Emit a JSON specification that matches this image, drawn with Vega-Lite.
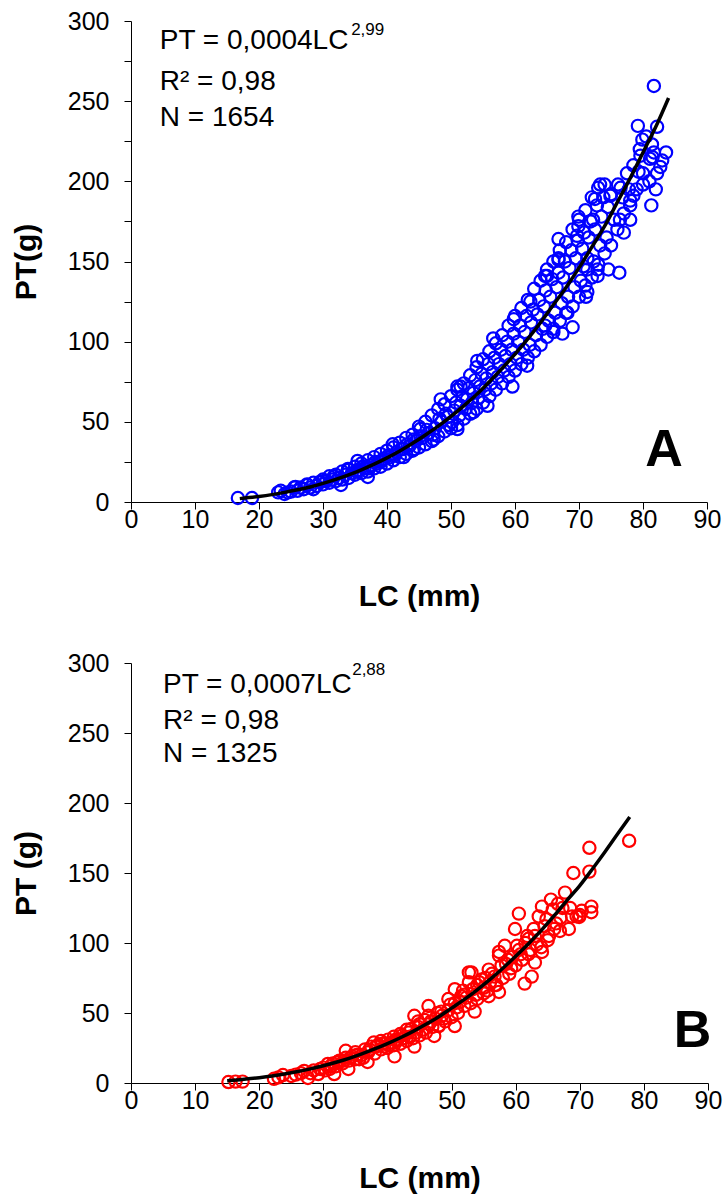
{
  "$schema": "https://vega.github.io/schema/vega-lite/v6.json",
  "background": "white",
  "padding": {"left": 11, "top": 9, "right": 5, "bottom": 5},
  "bounds": "flush",
  "spacing": 161,
  "config": {
    "view": {"stroke": null},
    "font": "Liberation Sans",
    "axis": {
      "grid": false,
      "domainColor": "black",
      "domainWidth": 1,
      "tickColor": "black",
      "tickWidth": 1,
      "tickSize": 7,
      "labelColor": "black",
      "labelFont": "Liberation Sans",
      "labelFontSize": 25,
      "titleFont": "Liberation Sans",
      "titleFontSize": 30,
      "titleFontWeight": "bold",
      "titleColor": "black"
    }
  },
  "datasets": {
    "a_pts": [
      {"LC":16.7,"PT":2.5},{"LC":18.9,"PT":2.5},
      {"LC":23.4,"PT":7},{"LC":24.5,"PT":6},{"LC":25.7,"PT":9.4},{"LC":27.6,"PT":10.6},{"LC":28.5,"PT":8},{"LC":30,"PT":13},{"LC":32.8,"PT":10.6},{"LC":31.7,"PT":16},{"LC":33.9,"PT":20.6},{"LC":35.4,"PT":25.6},{"LC":37,"PT":15.6},{"LC":39,"PT":25},{"LC":40.9,"PT":36},{"LC":42.6,"PT":28},{"LC":44.2,"PT":33},{"LC":45.2,"PT":45.5},{"LC":47.3,"PT":39},{"LC":48.4,"PT":64},{"LC":51,"PT":45.5},{"LC":53.5,"PT":56},{"LC":51.5,"PT":72},
      {"LC":23,"PT":6},{"LC":24,"PT":5},{"LC":25,"PT":6.5},{"LC":25.5,"PT":9},{"LC":26,"PT":7},{"LC":26.5,"PT":9},{"LC":27,"PT":8},{"LC":27.5,"PT":11},{"LC":28,"PT":9},{"LC":28.5,"PT":12},{"LC":29,"PT":10},{"LC":29.5,"PT":12.5},{"LC":30,"PT":11},{"LC":30,"PT":14},
      {"LC":30.5,"PT":13},{"LC":31,"PT":12},{"LC":31,"PT":16},{"LC":31.5,"PT":14},{"LC":32,"PT":13},{"LC":32,"PT":17},{"LC":32.5,"PT":15},{"LC":33,"PT":14},{"LC":33,"PT":19},{"LC":33.5,"PT":17},{"LC":34,"PT":15},{"LC":34,"PT":20},{"LC":34.5,"PT":18},{"LC":35,"PT":17},{"LC":35,"PT":22},{"LC":35.5,"PT":20},{"LC":36,"PT":18},{"LC":36,"PT":24},{"LC":36.5,"PT":21},{"LC":37,"PT":19},{"LC":37,"PT":26},{"LC":37.5,"PT":23},{"LC":38,"PT":21},{"LC":38,"PT":28},{"LC":38.5,"PT":24},{"LC":39,"PT":22},{"LC":39,"PT":30},{"LC":39.5,"PT":27},{"LC":40,"PT":24},{"LC":40,"PT":32},{"LC":40.5,"PT":28},
      {"LC":41,"PT":26},{"LC":41,"PT":34},{"LC":41.5,"PT":31},{"LC":42,"PT":28},{"LC":42,"PT":37},{"LC":42.5,"PT":33},{"LC":43,"PT":30},{"LC":43,"PT":40},{"LC":43.5,"PT":35},{"LC":44,"PT":32},{"LC":44,"PT":42},{"LC":44.5,"PT":38},{"LC":45,"PT":34},{"LC":45,"PT":47},{"LC":45.5,"PT":40},{"LC":46,"PT":36},{"LC":46,"PT":50},{"LC":46.5,"PT":43},{"LC":47,"PT":38},{"LC":47,"PT":54},{"LC":47.5,"PT":46},{"LC":48,"PT":41},{"LC":48,"PT":58},{"LC":48.5,"PT":50},{"LC":49,"PT":44},{"LC":49,"PT":61},{"LC":49.5,"PT":53},{"LC":50,"PT":46},{"LC":50,"PT":66},{"LC":50.5,"PT":57},
      {"LC":51,"PT":48},{"LC":51,"PT":70},{"LC":51.5,"PT":60},{"LC":52,"PT":52},{"LC":52,"PT":74},{"LC":52.5,"PT":64},{"LC":53,"PT":55},{"LC":53,"PT":79},{"LC":53.5,"PT":68},{"LC":54,"PT":58},{"LC":54,"PT":84},{"LC":54.5,"PT":72},{"LC":55,"PT":62},{"LC":55,"PT":89},{"LC":55.5,"PT":77},{"LC":56,"PT":66},{"LC":56,"PT":94},{"LC":56.5,"PT":81},{"LC":57,"PT":70},{"LC":57,"PT":99},{"LC":57.5,"PT":86},{"LC":58,"PT":74},{"LC":58,"PT":104},{"LC":58.5,"PT":91},{"LC":59,"PT":78},{"LC":59,"PT":110},{"LC":59.5,"PT":95},{"LC":60,"PT":82},{"LC":60,"PT":116},{"LC":60.5,"PT":100},
      {"LC":61,"PT":86},{"LC":61,"PT":121},{"LC":61.5,"PT":106},{"LC":62,"PT":90},{"LC":62,"PT":126},{"LC":62.5,"PT":112},{"LC":63,"PT":94},{"LC":63,"PT":133},{"LC":63.5,"PT":117},{"LC":64,"PT":98},{"LC":64,"PT":138},{"LC":64.5,"PT":122},{"LC":65,"PT":103},{"LC":65,"PT":145},{"LC":65.5,"PT":128},{"LC":66,"PT":108},{"LC":66,"PT":150},{"LC":66.5,"PT":134},{"LC":67,"PT":113},{"LC":67,"PT":157},{"LC":67.5,"PT":140},{"LC":68,"PT":118},{"LC":68,"PT":162},{"LC":68.5,"PT":146},{"LC":69,"PT":122},{"LC":69,"PT":170},{"LC":69.5,"PT":152},{"LC":70,"PT":128},{"LC":70,"PT":176},{"LC":70.5,"PT":158},
      {"LC":71,"PT":135},{"LC":71,"PT":182},{"LC":71.5,"PT":165},{"LC":72,"PT":140},{"LC":72,"PT":190},{"LC":72.5,"PT":170},{"LC":73,"PT":148},{"LC":73,"PT":196},{"LC":73.5,"PT":178},{"LC":74,"PT":155},{"LC":74,"PT":198},{"LC":74.5,"PT":184},{"LC":75,"PT":160},{"LC":75,"PT":192},{"LC":76,"PT":170},{"LC":76.5,"PT":196},{"LC":77,"PT":180},{"LC":77.5,"PT":205},{"LC":78,"PT":188},{"LC":78.5,"PT":210},{"LC":79,"PT":195},{"LC":79.5,"PT":220},{"LC":80,"PT":205},{"LC":80.5,"PT":228},{"LC":81,"PT":200},{"LC":81.5,"PT":215},{"LC":82,"PT":195},{"LC":83,"PT":213},
      {"LC":81.7,"PT":259.5},{"LC":79.2,"PT":234.6},{"LC":82.2,"PT":234},{"LC":79.9,"PT":226},{"LC":81.4,"PT":223},{"LC":81.7,"PT":218},{"LC":83.6,"PT":218},{"LC":79.6,"PT":216},{"LC":81.1,"PT":214},{"LC":82.7,"PT":209},{"LC":82.2,"PT":205},{"LC":81.3,"PT":185},{"LC":73.3,"PT":198},{"LC":76.1,"PT":198},{"LC":80,"PT":198},{"LC":72.5,"PT":189},{"LC":74.9,"PT":191},{"LC":78,"PT":185},{"LC":78.5,"PT":191},{"LC":76.4,"PT":176},{"LC":78,"PT":176},{"LC":77,"PT":168},{"LC":69.9,"PT":178},{"LC":69.9,"PT":172},{"LC":66.8,"PT":164},{"LC":66.8,"PT":152},{"LC":71.3,"PT":131},{"LC":76.3,"PT":143},{"LC":74.6,"PT":145},{"LC":72.9,"PT":145},{"LC":70.7,"PT":147},{"LC":65,"PT":141},
      {"LC":66.8,"PT":151},{"LC":64.7,"PT":141},{"LC":71.1,"PT":128},{"LC":69,"PT":109},{"LC":67.4,"PT":105},{"LC":61.9,"PT":85},{"LC":59.6,"PT":72},{"LC":55.7,"PT":60},{"LC":51,"PT":72},{"LC":54.1,"PT":88},{"LC":56.6,"PT":102},{"LC":59.8,"PT":114},{"LC":62.4,"PT":125},{"LC":64.7,"PT":110},{"LC":66,"PT":106},{"LC":68.2,"PT":118},{"LC":71.3,"PT":152},{"LC":72.9,"PT":141},{"LC":72.2,"PT":176},{"LC":69.7,"PT":166},
      {"LC":35.2,"PT":19},{"LC":36.2,"PT":22},{"LC":37.2,"PT":21},{"LC":38.2,"PT":25},{"LC":39.2,"PT":26},{"LC":40.2,"PT":29},{"LC":41.2,"PT":29},{"LC":42.2,"PT":33},{"LC":43.2,"PT":36},{"LC":44.2,"PT":39},{"LC":45.2,"PT":41},{"LC":46.2,"PT":45},{"LC":47.2,"PT":42},{"LC":48.2,"PT":52},{"LC":49.2,"PT":55},{"LC":49.7,"PT":48},
      {"LC":50.2,"PT":50},{"LC":50.8,"PT":62},{"LC":51.3,"PT":54},{"LC":51.8,"PT":66},{"LC":52.3,"PT":58},{"LC":52.8,"PT":71},{"LC":53.3,"PT":62},{"LC":53.8,"PT":76},{"LC":54.3,"PT":65},{"LC":54.8,"PT":80},{"LC":55.3,"PT":70},{"LC":55.8,"PT":86},{"LC":56.3,"PT":74},{"LC":56.8,"PT":90},{"LC":57.3,"PT":78},{"LC":57.8,"PT":95},{"LC":58.3,"PT":82},{"LC":58.8,"PT":100},{"LC":59.3,"PT":86},{"LC":59.8,"PT":105},{"LC":60.3,"PT":90},{"LC":60.8,"PT":110},{"LC":61.3,"PT":95},{"LC":61.8,"PT":116},{"LC":62.3,"PT":98},{"LC":62.8,"PT":120},{"LC":63.3,"PT":104},{"LC":63.8,"PT":126},{"LC":64.3,"PT":108},{"LC":64.8,"PT":132},{"LC":65.3,"PT":113},{"LC":65.8,"PT":139},{"LC":66.3,"PT":118},{"LC":66.8,"PT":143},{"LC":67.3,"PT":124},{"LC":67.8,"PT":150},{"LC":68.3,"PT":128},{"LC":68.8,"PT":157},{"LC":69.3,"PT":134},{"LC":69.8,"PT":163},{"LC":70.3,"PT":138},{"LC":70.8,"PT":168},{"LC":71.3,"PT":145},{"LC":71.8,"PT":175},{"LC":72.3,"PT":150},{"LC":72.8,"PT":185},{"LC":73.3,"PT":160},{"LC":73.8,"PT":190},{"LC":74.3,"PT":165},{"LC":75.5,"PT":176},{"LC":76.8,"PT":190},{"LC":77.8,"PT":195},{"LC":79.3,"PT":206}
    ],
    "a_fit": [
      {"LC":17,"PT":2.1},{"LC":20,"PT":3.45},{"LC":22,"PT":4.6},{"LC":24,"PT":6.0},{"LC":26,"PT":7.6},{"LC":28,"PT":9.4},{"LC":30,"PT":11.6},{"LC":32,"PT":14.1},{"LC":34,"PT":16.9},{"LC":36,"PT":20.1},{"LC":38,"PT":23.6},{"LC":40,"PT":27.5},{"LC":42,"PT":31.8},{"LC":44,"PT":36.6},{"LC":46,"PT":41.8},{"LC":48,"PT":47.3},{"LC":50,"PT":53.4},{"LC":52,"PT":60},{"LC":54,"PT":67},{"LC":56,"PT":75},{"LC":58,"PT":83.4},{"LC":60,"PT":92.2},{"LC":62,"PT":101.7},{"LC":64,"PT":112},{"LC":66,"PT":123},{"LC":68,"PT":134},{"LC":70,"PT":146},{"LC":72,"PT":159},{"LC":74,"PT":172},{"LC":76,"PT":187},{"LC":78,"PT":202},{"LC":80,"PT":218},{"LC":82,"PT":234},{"LC":84,"PT":252}
    ],
    "b_pts": [
      {"LC":15.2,"PT":0.7},{"LC":16.3,"PT":1},{"LC":17.4,"PT":1},{"LC":22.3,"PT":3},{"LC":23,"PT":4},{"LC":23.7,"PT":5.7},{"LC":25,"PT":5},{"LC":25.7,"PT":6},{"LC":26.5,"PT":7},{"LC":27,"PT":8.6},{"LC":27.6,"PT":3.6},{"LC":28,"PT":7},{"LC":28.5,"PT":9},{"LC":29.2,"PT":6.4},{"LC":29.5,"PT":10},{"LC":30,"PT":11},{"LC":30.7,"PT":13.6},
      {"LC":31,"PT":10},{"LC":31.5,"PT":14},{"LC":31.7,"PT":6.4},{"LC":32,"PT":12},{"LC":32.5,"PT":16},{"LC":33,"PT":14},{"LC":33.5,"PT":18},{"LC":33.5,"PT":23},{"LC":33.9,"PT":10},{"LC":34,"PT":16},{"LC":34.5,"PT":19},{"LC":35,"PT":17},{"LC":35,"PT":22},{"LC":35.6,"PT":17},{"LC":36,"PT":20},{"LC":36.5,"PT":24},{"LC":36.9,"PT":15},{"LC":37,"PT":22},{"LC":37.5,"PT":26},{"LC":37.9,"PT":29},{"LC":38,"PT":21},{"LC":38.5,"PT":27},{"LC":39,"PT":24},{"LC":39,"PT":30},{"LC":39.5,"PT":26},{"LC":40,"PT":25},{"LC":40.1,"PT":31},{"LC":40.5,"PT":29},
      {"LC":41,"PT":27},{"LC":41,"PT":33},{"LC":41.1,"PT":19},{"LC":41.5,"PT":30},{"LC":42,"PT":28},{"LC":42,"PT":35},{"LC":42.5,"PT":32},{"LC":43,"PT":30},{"LC":43,"PT":38},{"LC":43.3,"PT":36},{"LC":43.7,"PT":38.6},{"LC":44,"PT":32},{"LC":44.2,"PT":26},{"LC":44.2,"PT":48},{"LC":44.5,"PT":36},{"LC":45,"PT":34},{"LC":45,"PT":42},{"LC":45.5,"PT":38},{"LC":46,"PT":36},{"LC":46.4,"PT":48},{"LC":46.4,"PT":55},{"LC":46.5,"PT":42},{"LC":47,"PT":40},{"LC":47.3,"PT":33.6},{"LC":47.5,"PT":46},{"LC":48,"PT":41},{"LC":48,"PT":40.7},{"LC":48.4,"PT":51},{"LC":48.5,"PT":48},{"LC":49,"PT":44},{"LC":49.5,"PT":60},{"LC":49.5,"PT":52},{"LC":50,"PT":47},{"LC":50.5,"PT":40.7},{"LC":50.5,"PT":67},{"LC":50.5,"PT":57},
      {"LC":51,"PT":50},{"LC":51.5,"PT":62},{"LC":52,"PT":55},{"LC":52,"PT":63},{"LC":52.7,"PT":72},{"LC":52.7,"PT":79},{"LC":53,"PT":57},{"LC":53.1,"PT":79},{"LC":53.6,"PT":51},{"LC":54,"PT":60},{"LC":54,"PT":70},{"LC":54.7,"PT":74},{"LC":55,"PT":64},{"LC":55,"PT":68},{"LC":55.8,"PT":62},{"LC":55.8,"PT":81},{"LC":56,"PT":72},{"LC":56.7,"PT":76},{"LC":57,"PT":70},{"LC":57.4,"PT":65},{"LC":57.4,"PT":91},{"LC":57.4,"PT":93.6},{"LC":58,"PT":75},{"LC":58.3,"PT":98},{"LC":58.5,"PT":85},{"LC":59,"PT":78},{"LC":59.5,"PT":90},{"LC":59.9,"PT":110},{"LC":60,"PT":84},{"LC":60.5,"PT":121},{"LC":60.5,"PT":95},
      {"LC":61,"PT":88},{"LC":61.4,"PT":71},{"LC":61.5,"PT":100},{"LC":62,"PT":92},{"LC":62,"PT":103},{"LC":62.5,"PT":76},{"LC":63,"PT":86},{"LC":63,"PT":105},{"LC":63.6,"PT":119},{"LC":64,"PT":97},{"LC":64.1,"PT":93.6},{"LC":64.1,"PT":126},{"LC":64.5,"PT":112},{"LC":65,"PT":102},{"LC":65.2,"PT":105},{"LC":65.5,"PT":131},{"LC":66,"PT":110},{"LC":66.9,"PT":108.6},{"LC":67,"PT":118},{"LC":67.7,"PT":136},{"LC":68.3,"PT":110},{"LC":69,"PT":150},{"LC":69.9,"PT":118.6},{"LC":70,"PT":120},
      {"LC":71.5,"PT":151},{"LC":71.5,"PT":168},{"LC":71.8,"PT":126},{"LC":71.8,"PT":122},{"LC":77.7,"PT":173},
      {"LC":30.3,"PT":9},{"LC":31.2,"PT":12},{"LC":32.2,"PT":15},{"LC":33.2,"PT":16},{"LC":34.2,"PT":18},{"LC":35.2,"PT":20},{"LC":36.2,"PT":18},{"LC":37.2,"PT":24},{"LC":38.2,"PT":26},{"LC":39.2,"PT":28},{"LC":40.2,"PT":27},{"LC":41.3,"PT":31},{"LC":42.3,"PT":34},{"LC":43.5,"PT":33},{"LC":44.8,"PT":44},
      {"LC":44.8,"PT":40},{"LC":45.8,"PT":45},{"LC":46.8,"PT":44},{"LC":47.8,"PT":50},{"LC":48.8,"PT":46},{"LC":49.8,"PT":56},{"LC":50.8,"PT":54},{"LC":51.3,"PT":58},{"LC":51.8,"PT":66},{"LC":52.3,"PT":61},{"LC":53.3,"PT":67},{"LC":53.8,"PT":63},{"LC":54.3,"PT":72},{"LC":55.3,"PT":75},{"LC":55.6,"PT":66},{"LC":56.3,"PT":78},{"LC":56.8,"PT":70},{"LC":57.8,"PT":84},{"LC":58.8,"PT":88},{"LC":59.3,"PT":82},{"LC":60.2,"PT":98},{"LC":60.8,"PT":92},{"LC":61.8,"PT":105},{"LC":62.3,"PT":95},{"LC":62.8,"PT":110},{"LC":63.3,"PT":99},{"LC":64.8,"PT":117},{"LC":65.8,"PT":124},{"LC":66.3,"PT":114},{"LC":66.6,"PT":128},{"LC":67.3,"PT":125},{"LC":68.8,"PT":119},{"LC":69.5,"PT":119},{"LC":70.3,"PT":123},{"LC":68.5,"PT":125}
    ],
    "b_fit": [
      {"LC":15,"PT":1.67},{"LC":17,"PT":2.4},{"LC":20,"PT":3.82},{"LC":22,"PT":5.0},{"LC":25,"PT":7.27},{"LC":28,"PT":10.1},{"LC":30,"PT":12.3},{"LC":32,"PT":14.8},{"LC":34,"PT":17.6},{"LC":36,"PT":20.8},{"LC":38,"PT":24.3},{"LC":40,"PT":28.1},{"LC":42,"PT":32.3},{"LC":44,"PT":36.9},{"LC":46,"PT":41.9},{"LC":48,"PT":47.3},{"LC":50,"PT":53.5},{"LC":52,"PT":59.7},{"LC":54,"PT":66.6},{"LC":56,"PT":74},{"LC":58,"PT":82},{"LC":60,"PT":90.5},{"LC":62,"PT":99.5},{"LC":64,"PT":109},{"LC":66,"PT":119.5},{"LC":68,"PT":130.5},{"LC":70,"PT":141},{"LC":72,"PT":153},{"LC":74,"PT":165.5},{"LC":76,"PT":178.5},{"LC":77.8,"PT":190}
    ],
    "one": [{"k": 1}]
  },
  "vconcat": [
    {
      "width": 576,
      "height": 481,
      "layer": [
        {
          "data": {"name": "a_pts"},
          "mark": {"type": "point", "shape": "circle", "filled": false, "color": "#0000ff", "size": 150, "strokeWidth": 2.2, "opacity": 1},
          "encoding": {
            "x": {"field": "LC", "type": "quantitative",
              "scale": {"domain": [0, 90], "nice": false},
              "axis": {"title": "LC (mm)", "values": [0,5,10,15,20,25,30,35,40,45,50,55,60,65,70,75,80,85,90], "labelExpr": "datum.value % 10 === 0 ? datum.label : ''", "labelPadding": -2, "titlePadding": 49, "labelFlush": false}},
            "y": {"field": "PT", "type": "quantitative",
              "scale": {"domain": [0, 300], "nice": false},
              "axis": {"title": "PT(g)", "values": [0,25,50,75,100,125,150,175,200,225,250,275,300], "labelExpr": "datum.value % 50 === 0 ? datum.label : ''", "labelPadding": 15, "titlePadding": 26, "labelFlush": false}}
          }
        },
        {
          "data": {"name": "a_fit"},
          "mark": {"type": "line", "color": "black", "strokeWidth": 3.5, "interpolate": "monotone"},
          "encoding": {
            "x": {"field": "LC", "type": "quantitative"},
            "y": {"field": "PT", "type": "quantitative"}
          }
        },
        {
          "data": {"name": "one"},
          "mark": {"type": "text", "text": "PT = 0,0004LC", "fontSize": 28, "align": "left", "baseline": "middle", "color": "black"},
          "encoding": {"x": {"datum": 4.5}, "y": {"datum": 287.6}}
        },
        {
          "data": {"name": "one"},
          "mark": {"type": "text", "text": "2,99", "fontSize": 17, "align": "left", "baseline": "middle", "color": "black"},
          "encoding": {"x": {"datum": 34.4}, "y": {"datum": 294.2}}
        },
        {
          "data": {"name": "one"},
          "mark": {"type": "text", "text": "R² = 0,98", "fontSize": 28, "align": "left", "baseline": "middle", "color": "black"},
          "encoding": {"x": {"datum": 4.5}, "y": {"datum": 262}}
        },
        {
          "data": {"name": "one"},
          "mark": {"type": "text", "text": "N = 1654", "fontSize": 28, "align": "left", "baseline": "middle", "color": "black"},
          "encoding": {"x": {"datum": 4.5}, "y": {"datum": 239.5}}
        },
        {
          "data": {"name": "one"},
          "mark": {"type": "text", "text": "A", "fontSize": 52, "fontWeight": "bold", "align": "center", "baseline": "middle", "color": "black"},
          "encoding": {"x": {"datum": 83.3}, "y": {"datum": 32.4}}
        }
      ]
    },
    {
      "width": 577,
      "height": 420,
      "layer": [
        {
          "data": {"name": "b_pts"},
          "mark": {"type": "point", "shape": "circle", "filled": false, "color": "#ff0000", "size": 150, "strokeWidth": 2.2, "opacity": 1},
          "encoding": {
            "x": {"field": "LC", "type": "quantitative",
              "scale": {"domain": [0, 90], "nice": false},
              "axis": {"title": "LC (mm)", "values": [0,5,10,15,20,25,30,35,40,45,50,55,60,65,70,75,80,85,90], "labelExpr": "datum.value % 10 === 0 ? datum.label : ''", "labelPadding": -2, "titlePadding": 50, "labelFlush": false}},
            "y": {"field": "PT", "type": "quantitative",
              "scale": {"domain": [0, 300], "nice": false},
              "axis": {"title": "PT (g)", "values": [0,25,50,75,100,125,150,175,200,225,250,275,300], "labelExpr": "datum.value % 50 === 0 ? datum.label : ''", "labelPadding": 15, "titlePadding": 26, "labelFlush": false}}
          }
        },
        {
          "data": {"name": "b_fit"},
          "mark": {"type": "line", "color": "black", "strokeWidth": 3.5, "interpolate": "monotone"},
          "encoding": {
            "x": {"field": "LC", "type": "quantitative"},
            "y": {"field": "PT", "type": "quantitative"}
          }
        },
        {
          "data": {"name": "one"},
          "mark": {"type": "text", "text": "PT = 0,0007LC", "fontSize": 28, "align": "left", "baseline": "middle", "color": "black"},
          "encoding": {"x": {"datum": 5.0}, "y": {"datum": 284.3}}
        },
        {
          "data": {"name": "one"},
          "mark": {"type": "text", "text": "2,88", "fontSize": 17, "align": "left", "baseline": "middle", "color": "black"},
          "encoding": {"x": {"datum": 34.5}, "y": {"datum": 295}}
        },
        {
          "data": {"name": "one"},
          "mark": {"type": "text", "text": "R² = 0,98", "fontSize": 28, "align": "left", "baseline": "middle", "color": "black"},
          "encoding": {"x": {"datum": 5.0}, "y": {"datum": 258.6}}
        },
        {
          "data": {"name": "one"},
          "mark": {"type": "text", "text": "N = 1325", "fontSize": 28, "align": "left", "baseline": "middle", "color": "black"},
          "encoding": {"x": {"datum": 5.0}, "y": {"datum": 235}}
        },
        {
          "data": {"name": "one"},
          "mark": {"type": "text", "text": "B", "fontSize": 52, "fontWeight": "bold", "align": "center", "baseline": "middle", "color": "black"},
          "encoding": {"x": {"datum": 87.6}, "y": {"datum": 37}}
        }
      ]
    }
  ]
}
